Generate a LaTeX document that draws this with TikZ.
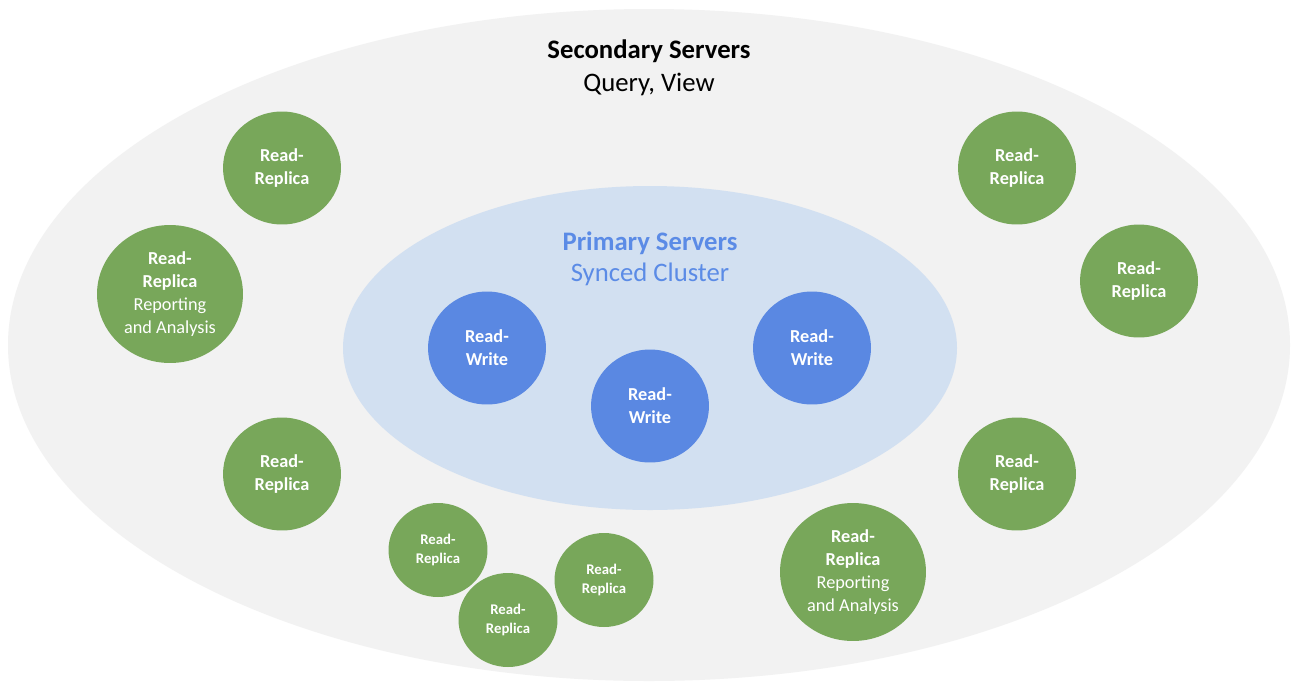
\documentclass[tikz,border=0pt]{standalone}
\usepackage{fontspec}
\usepackage{tikz}
\usepackage{xcolor}
\usetikzlibrary{shapes.geometric}
\setmainfont{Carlito}

\definecolor{outergray}{HTML}{F2F2F2}
\definecolor{innerblue}{HTML}{D2E0F1}
\definecolor{rwblue}{HTML}{5A88E2}
\definecolor{rrgreen}{HTML}{78A75A}
\definecolor{titleblue}{HTML}{5B8BE6}

\tikzset{
  replica/.style={ellipse, fill=rrgreen, minimum width=2.36cm, minimum height=2.26cm, inner sep=0pt,
    text=white, align=center, font=\fontsize{10.4}{13}\selectfont\bfseries},
  bigreplica/.style={replica, minimum width=2.92cm, minimum height=2.76cm},
  smallreplica/.style={replica, minimum width=1.98cm, minimum height=1.88cm, font=\fontsize{8.4}{10.5}\selectfont\bfseries},
  readwrite/.style={replica, fill=rwblue}
}

\begin{document}
\begin{tikzpicture}[x=0.02cm, y=-0.02cm]
\useasboundingbox (0,0) rectangle (1294,683);
\fill[white] (0,0) rectangle (1294,683);

\fill[outergray] (649,345) ellipse (641 and 336);
\fill[innerblue] (650,348) ellipse (307 and 162);

\node[font=\fontsize{15.2}{19}\selectfont, align=center] (secondary) at (649,68)
  {\textbf{Secondary Servers}\\Query, View};
\node[font=\fontsize{15.2}{17.6}\selectfont, align=center, text=titleblue] (primary) at (650,259)
  {\textbf{Primary Servers}\\Synced Cluster};

% primary servers
\node[readwrite] (rw1) at (487,348) {Read-\\Write};
\node[readwrite] (rw2) at (650,406) {Read-\\Write};
\node[readwrite] (rw3) at (812,348) {Read-\\Write};

% secondary servers
\node[replica] (rr1) at (282,168) {Read-\\Replica};
\node[bigreplica] (rr2) at (170,294) {Read-\\Replica\\\mdseries Reporting\\\mdseries and Analysis};
\node[replica] (rr3) at (282,474) {Read-\\Replica};
\node[smallreplica] (rr4) at (438,550) {Read-\\Replica};
\node[smallreplica] (rr5) at (508,620) {Read-\\Replica};
\node[smallreplica] (rr6) at (604,580) {Read-\\Replica};
\node[bigreplica] (rr7) at (853,572) {Read-\\Replica\\\mdseries Reporting\\\mdseries and Analysis};
\node[replica] (rr8) at (1017,474) {Read-\\Replica};
\node[replica] (rr9) at (1017,168) {Read-\\Replica};
\node[replica] (rr10) at (1139,281) {Read-\\Replica};
\end{tikzpicture}
\end{document}
